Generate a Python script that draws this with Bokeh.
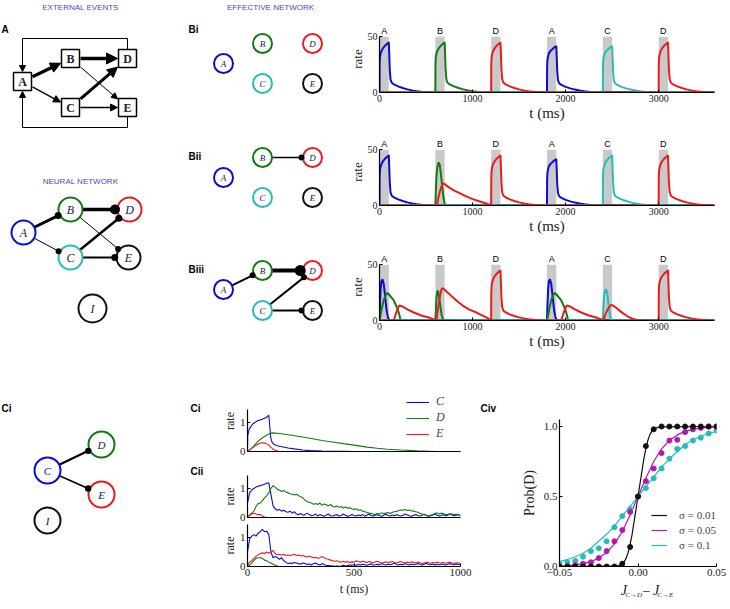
import math
from bokeh.plotting import figure
from bokeh.layouts import row, column
from bokeh.models import Range1d, Arrow, NormalHead, Legend, LegendItem, FixedTicker
from bokeh.embed import file_html
from bokeh.resources import INLINE
from bokeh.core.properties import value

# ====================== DATA ======================
EVENT_ONSETS = [0, 600, 1200, 1800, 2400, 3000]
EVENT_SEQUENCE = ["A", "B", "D", "A", "C", "D"]
STIM_DURATION = 100
STIM_TOP = 50
RATE_TICKS = [0, 50]
TIME_TICKS = [0, 1000, 2000, 3000]

# response templates: time after event onset (ms) and rate
DRIVEN_T = [0, 1, 4, 10, 20, 40, 60, 80, 100, 104, 110, 118, 130, 150, 200, 250, 300, 350, 400, 450, 500, 550, 600]
DRIVEN_HI = [0, 24, 31, 34, 37, 40, 42, 43.5, 45, 36, 21, 12, 9, 7.5, 5.5, 4, 2.8, 1.9, 1.2, 0.7, 0.35, 0.1, 0]
DRIVEN_LO = [0, 22, 29, 32, 35, 37.5, 39, 40.5, 41.5, 33, 19, 11, 8.5, 7, 5, 3.7, 2.6, 1.7, 1.1, 0.6, 0.3, 0.1, 0]
BII_GREEN_B_T = [0, 5, 12, 20, 30, 38, 48, 60, 75, 90, 100, 110, 600]
BII_GREEN_B = [0, 12, 26, 33, 37.5, 38.5, 36, 28, 16, 6, 2, 0, 0]
BII_RED_B_T = [0, 17, 30, 50, 70, 90, 110, 150, 200, 250, 294, 350, 410, 471, 530, 577, 600]
BII_RED_B = [0, 0, 6, 13, 18, 20, 18.5, 16, 13.5, 11.5, 9.7, 7.5, 5.5, 3.8, 2.2, 0.9, 0.3]
BIII_BLUE_A_T = [0, 5, 12, 20, 32, 45, 60, 75, 90, 105, 113, 600]
BIII_BLUE_A = [0, 14, 28, 35, 37, 33, 22, 10, 3, 0.5, 0, 0]
BIII_GREEN_A_T = [0, 10, 25, 45, 65, 85, 100, 125, 150, 175, 200, 215, 227, 600]
BIII_GREEN_A = [0, 4, 11, 18, 22.5, 24.7, 23.5, 21, 18.5, 14, 9, 4.5, 0, 0]
BIII_RED_A_T = [0, 150, 160, 180, 200, 213, 240, 300, 362, 450, 539, 600]
BIII_RED_A = [0, 0, 2, 7, 11.5, 13.4, 12.8, 10, 7.4, 4.5, 2.4, 0.5]
BIII_GREEN_B_T = [0, 5, 12, 20, 28, 40, 55, 70, 85, 91, 600]
BIII_GREEN_B = [0, 8, 20, 25.5, 27, 22, 12, 4, 0.5, 0, 0]
BIII_RED_B_T = [0, 10, 20, 35, 50, 65, 74, 100, 140, 187, 240, 294, 360, 435, 490, 542, 595, 600]
BIII_RED_B = [0, 0, 5, 14, 22, 27.5, 29, 27.5, 24.5, 20.8, 17, 13.4, 10, 7.4, 5, 3, 0.6, 0.3]
BIII_CYAN_C_T = [0, 5, 12, 22, 36, 48, 62, 75, 89, 600]
BIII_CYAN_C = [0, 10, 21, 26.5, 28, 24, 14, 5, 0, 0]
BIII_RED_C_T = [0, 10, 30, 55, 89, 110, 150, 200, 260, 320, 373, 600]
BIII_RED_C = [0, 1, 6, 10.5, 14, 13.5, 11, 7.5, 4, 1.5, 0.3, 0]

TEMPLATES = {
    "driven_hi": (DRIVEN_T, DRIVEN_HI),
    "driven_lo": (DRIVEN_T, DRIVEN_LO),
    "bii_green_b": (BII_GREEN_B_T, BII_GREEN_B),
    "bii_red_b": (BII_RED_B_T, BII_RED_B),
    "biii_blue_a": (BIII_BLUE_A_T, BIII_BLUE_A),
    "biii_green_a": (BIII_GREEN_A_T, BIII_GREEN_A),
    "biii_red_a": (BIII_RED_A_T, BIII_RED_A),
    "biii_green_b": (BIII_GREEN_B_T, BIII_GREEN_B),
    "biii_red_b": (BIII_RED_B_T, BIII_RED_B),
    "biii_cyan_c": (BIII_CYAN_C_T, BIII_CYAN_C),
    "biii_red_c": (BIII_RED_C_T, BIII_RED_C),
}

# response of each neuron to each of the six events
BI_RESP = {
    "A": ["driven_hi", None, None, "driven_lo", None, None],
    "B": [None, "driven_hi", None, None, None, None],
    "C": [None, None, None, None, "driven_lo", None],
    "D": [None, None, "driven_hi", None, None, "driven_hi"],
    "E": [None, None, None, None, None, None],
}
BII_RESP = {
    "A": ["driven_hi", None, None, "driven_lo", None, None],
    "B": [None, "bii_green_b", None, None, None, None],
    "C": [None, None, None, None, "driven_hi", None],
    "D": [None, "bii_red_b", "driven_hi", None, None, "driven_hi"],
    "E": [None, None, None, None, None, None],
}
BIII_RESP = {
    "A": ["biii_blue_a", None, None, "biii_blue_a", None, None],
    "B": ["biii_green_a", "biii_green_b", None, "biii_green_a", None, None],
    "C": [None, None, None, None, "biii_cyan_c", None],
    "D": ["biii_red_a", "biii_red_b", "driven_hi", "biii_red_a", "biii_red_c", "driven_hi"],
    "E": [None, None, None, None, None, None],
}

# Panel C: deterministic (Ci) and noisy (Cii) rates
CI_C_T = [0, 1, 8, 23, 47, 70, 90, 100, 103, 109, 115, 125, 140, 156, 190, 219, 260, 297, 350, 406, 450, 500, 1000]
CI_C = [0.0, 0.55, 0.77, 0.94, 1.06, 1.11, 1.18, 1.25, 1.0, 0.49, 0.32, 0.24, 0.2, 0.17, 0.12, 0.09, 0.05, 0.03, 0.015, 0.01, 0.005, 0, 0]
CI_D_T = [0, 15, 31, 46, 62, 78, 94, 105, 117, 150, 200, 250, 300, 350, 406, 450, 500, 562, 610, 656, 720, 797, 850, 900, 1000]
CI_D = [0, 0.08, 0.2, 0.32, 0.43, 0.51, 0.58, 0.62, 0.64, 0.62, 0.57, 0.51, 0.45, 0.38, 0.32, 0.27, 0.22, 0.15, 0.11, 0.08, 0.05, 0.02, 0.01, 0, 0]
CI_E_T = [0, 15, 31, 46, 62, 75, 86, 100, 109, 120, 133, 150, 1000]
CI_E = [0, 0.08, 0.17, 0.24, 0.29, 0.3, 0.28, 0.22, 0.15, 0.08, 0.03, 0, 0]

CII_T = list(range(0, 1001, 10))
CII1_C = [0.5, 0.85, 0.95, 1.0, 1.05, 1.08, 1.1, 1.12, 1.15, 1.18, 1.2,
          0.8, 0.4, 0.3, 0.25, 0.28, 0.22, 0.25, 0.2, 0.18, 0.22,
          0.15, 0.2, 0.12, 0.1, 0.14, 0.08, 0.1, 0.15, 0.1, 0.06,
          0.08, 0.12, 0.05, 0.1, 0.07, 0.04, 0.09, 0.12, 0.06, 0.05,
          0.08, 0.1, 0.05, 0.07, 0.12, 0.08, 0.04, 0.06, 0.1, 0.07,
          0.05, 0.09, 0.06, 0.1, 0.04, 0.08, 0.12, 0.07, 0.05, 0.08,
          0.1, 0.06, 0.04, 0.08, 0.11, 0.07, 0.05, 0.09, 0.06, 0.1,
          0.07, 0.05, 0.08, 0.12, 0.09, 0.06, 0.04, 0.08, 0.1, 0.06,
          0.05, 0.08, 0.11, 0.07, 0.04, 0.06, 0.09, 0.12, 0.08, 0.05,
          0.07, 0.1, 0.06, 0.08, 0.12, 0.09, 0.06, 0.08, 0.1, 0.07]
CII1_D = [0, 0.08, 0.15, 0.22, 0.38, 0.48, 0.5, 0.58, 0.68, 0.75, 0.85,
          1.0, 1.1, 1.05, 0.97, 0.95, 0.9, 0.93, 0.88, 0.85, 0.82,
          0.8, 0.78, 0.8, 0.75, 0.72, 0.68, 0.6, 0.55, 0.52, 0.5,
          0.46, 0.48, 0.45, 0.5, 0.42, 0.47, 0.44, 0.4, 0.45, 0.38,
          0.36, 0.4, 0.35, 0.38, 0.33, 0.36, 0.32, 0.34, 0.3, 0.28,
          0.3, 0.25, 0.27, 0.22, 0.2, 0.18, 0.15, 0.14, 0.12, 0.1,
          0.14, 0.12, 0.16, 0.13, 0.15, 0.17, 0.14, 0.18, 0.2, 0.21,
          0.24, 0.26, 0.25, 0.28, 0.24, 0.26, 0.23, 0.22, 0.2, 0.18,
          0.15, 0.12, 0.1, 0.08, 0.06, 0.08, 0.1, 0.14, 0.16, 0.12,
          0.15, 0.13, 0.11, 0.1, 0.13, 0.12, 0.1, 0.11, 0.09, 0.08]
CII1_E_T = [0, 10, 20, 30, 40, 50, 60, 70, 80, 90, 100, 1000]
CII1_E = [0, 0.08, 0.12, 0.15, 0.12, 0.1, 0.1, 0.05, 0.02, 0, 0, 0]

CII2_C = [0.5, 0.95, 1.05, 1.1, 1.05, 1.15, 1.2, 1.28, 1.2, 1.22, 1.1,
          0.5, 0.3, 0.35, 0.3, 0.25, 0.3, 0.2, 0.15, 0.1, 0.12,
          0.1, 0.14, 0.12, 0.1, 0.08, 0.12, 0.1, 0.07, 0.09, 0.05,
          0.1, 0.12, 0.08, 0.05, 0.1, 0.06, 0.04, 0.03, 0.02, 0.02,
          0.01, 0.02, 0.01, 0.02, 0.04, 0.02, 0.03, 0.05, 0.04, 0.06,
          0.04, 0.07, 0.05, 0.08, 0.06, 0.04, 0.07, 0.09, 0.05, 0.06,
          0.08, 0.05, 0.1, 0.07, 0.05, 0.08, 0.06, 0.09, 0.12, 0.07,
          0.05, 0.08, 0.06, 0.1, 0.07, 0.05, 0.09, 0.06, 0.08, 0.1,
          0.07, 0.05, 0.08, 0.11, 0.07, 0.06, 0.09, 0.05, 0.08, 0.06,
          0.09, 0.07, 0.05, 0.08, 0.1, 0.07, 0.06, 0.09, 0.07, 0.08]
CII2_D_T = [0, 10, 20, 30, 40, 50, 60, 70, 80, 90, 100, 110, 120, 130, 140, 150, 1000]
CII2_D = [0, 0.05, 0.12, 0.2, 0.28, 0.3, 0.3, 0.28, 0.22, 0.2, 0.15, 0.12, 0.08, 0.05, 0.02, 0, 0]
CII2_E = [0.05, 0.15, 0.2, 0.28, 0.35, 0.4, 0.45, 0.47, 0.45, 0.5, 0.46,
          0.5, 0.55, 0.45, 0.4, 0.42, 0.4, 0.42, 0.38, 0.4, 0.38,
          0.4, 0.42, 0.38, 0.4, 0.36, 0.38, 0.35, 0.33, 0.36, 0.33,
          0.3, 0.32, 0.28, 0.3, 0.35, 0.3, 0.27, 0.25, 0.22, 0.2,
          0.18, 0.2, 0.16, 0.15, 0.18, 0.15, 0.17, 0.14, 0.16, 0.15,
          0.2, 0.17, 0.15, 0.18, 0.16, 0.14, 0.17, 0.15, 0.13, 0.16,
          0.18, 0.15, 0.12, 0.14, 0.16, 0.13, 0.15, 0.17, 0.14, 0.12,
          0.15, 0.17, 0.14, 0.12, 0.15, 0.13, 0.16, 0.14, 0.12, 0.15,
          0.13, 0.1, 0.12, 0.15, 0.13, 0.11, 0.14, 0.12, 0.15, 0.13,
          0.12, 0.14, 0.11, 0.13, 0.15, 0.12, 0.1, 0.13, 0.12, 0.11]

# Panel Civ: probability of choosing D
CIV_X = [-0.05, -0.045, -0.04, -0.035, -0.03, -0.025, -0.02, -0.015, -0.01, -0.005, 0.0,
         0.005, 0.01, 0.015, 0.02, 0.025, 0.03, 0.035, 0.04, 0.045, 0.05]
CIV_P_001 = [0, 0, 0, 0, 0, 0, 0, 0, 0.02, 0.14, 0.50, 0.86, 0.98, 1, 1, 1, 1, 1, 1, 1, 1]
CIV_P_005 = [0.0, 0.0, 0.01, 0.02, 0.03, 0.06, 0.11, 0.18, 0.26, 0.39, 0.5, 0.61, 0.70, 0.81, 0.90, 0.905, 0.96, 0.98, 0.99, 1.0, 1.0]
CIV_P_01 = [0.02, 0.03, 0.04, 0.07, 0.11, 0.13, 0.18, 0.28, 0.36, 0.41, 0.5, 0.56, 0.63, 0.70, 0.77, 0.84, 0.86, 0.90, 0.92, 0.95, 0.97]
FIT_001_X = [-0.05, -0.015, -0.0125, -0.01, -0.00875, -0.0075, -0.00625, -0.005, -0.00375, -0.0025, -0.00125, 0.0,
             0.00125, 0.0025, 0.00375, 0.005, 0.00625, 0.0075, 0.00875, 0.01, 0.0125, 0.015, 0.05]
FIT_001 = [0, 0.002, 0.006, 0.02, 0.035, 0.06, 0.1, 0.16, 0.23, 0.32, 0.41, 0.5,
           0.59, 0.68, 0.77, 0.84, 0.9, 0.94, 0.965, 0.98, 0.994, 0.998, 1.0]
FIT_005 = [0.003, 0.006, 0.011, 0.02, 0.035, 0.06, 0.1, 0.16, 0.25, 0.37, 0.5, 0.63, 0.75, 0.84, 0.9, 0.94, 0.965, 0.98, 0.989, 0.994, 0.997]
FIT_01 = [0.035, 0.05, 0.07, 0.095, 0.13, 0.18, 0.23, 0.29, 0.36, 0.43, 0.5, 0.57, 0.64, 0.71, 0.77, 0.82, 0.87, 0.905, 0.93, 0.95, 0.965]
SIGMA_LABELS = ["σ = 0.01", "σ = 0.05", "σ = 0.1"]

# ====================== STYLE / LAYOUT ======================
SERIF = "Liberation Serif"
SANS = "Liberation Sans"
C_BLUE = "#0b0bd8"
C_GREEN = "#127a12"
C_RED = "#ec1b1b"
C_CYAN = "#25bcbc"
C_BLACK = "#111111"
C_HEAD = "#4848cc"
C_MAGENTA = "#b418b4"
C_STIM = "#c9c9c9"
B_COLORS = {"A": C_BLUE, "B": C_GREEN, "C": C_CYAN, "D": C_RED, "E": C_BLACK}

# diagram layouts (page pixel coordinates)
BOX_POS = {"A": (22, 81), "B": (70, 58), "C": (70, 107), "D": (127, 58), "E": (127, 107)}
BOX_EDGES = [("A", "B", 3.2, 10), ("A", "C", 1.3, 7), ("B", "D", 3.6, 11), ("B", "E", 1.0, 6),
             ("C", "D", 3.0, 10), ("C", "E", 1.3, 7)]
NN_NODES = {"A": (23, 232, C_BLUE, 12), "B": (70, 209, C_GREEN, 12), "D": (129, 209, C_RED, 12),
            "C": (70, 257, C_CYAN, 12), "E": (128, 257, C_BLACK, 12), "I": (92, 308, C_BLACK, 14)}
NN_EDGES = [("A", "B", 3.0, 3.5), ("A", "C", 1.0, 3.0), ("B", "D", 3.5, 5.0), ("B", "E", 1.0, 3.0),
            ("C", "D", 2.5, 3.5), ("C", "E", 2.0, 3.5)]


def eff_nodes(dy_a, dy_b, dy_c):
    return {"A": (223, dy_a, C_BLUE, 9.5), "B": (262, dy_b, C_GREEN, 9.5), "D": (312, dy_b, C_RED, 9.5),
            "C": (262, dy_c, C_CYAN, 9.5), "E": (312, dy_c, C_BLACK, 9.5)}


EFF_NETS = [
    ("Bi", 29, eff_nodes(63, 43, 83), []),
    ("Bii", 156, eff_nodes(177, 157, 197), [("B", "D", 1.5, 3.0)]),
    ("Biii", 269, eff_nodes(289, 270, 310), [("A", "B", 2.0, 3.0), ("B", "D", 4.0, 5.5),
                                            ("C", "D", 2.0, 3.0), ("C", "E", 2.0, 3.0)]),
]
CI_NODES = {"C": (47, 470, C_BLUE, 13), "D": (101, 444, C_GREEN, 13), "E": (101, 494, C_RED, 13),
            "I": (47, 520, C_BLACK, 13)}
CI_EDGES = [("C", "D", 2.2, 3.2), ("C", "E", 1.6, 3.2)]


def canvas(w, h, x0, y0):
    p = figure(width=w, height=h, x_range=Range1d(x0, x0 + w), y_range=Range1d(y0 + h, y0),
               output_backend="svg", toolbar_location=None,
               x_axis_location=None, y_axis_location=None, min_border=0)
    p.outline_line_color = None
    p.grid.visible = False
    return p


def txt(p, xs, ys, texts, size, font=SANS, style="normal", color="black", align="center"):
    p.text(x=xs, y=ys, text=texts, text_font=value(font), text_font_size=value(size),
           text_font_style=style, text_color=color, text_align=align, text_baseline="middle")


def draw_network(p, nodes, edges, label_size):
    dots = []
    for a, b, lw, dr in edges:
        xa, ya, _, ra = nodes[a]
        xb, yb, _, rb = nodes[b]
        d = math.hypot(xb - xa, yb - ya)
        ux, uy = (xb - xa) / d, (yb - ya) / d
        sx, sy = xa + ux * ra, ya + uy * ra
        ex, ey = xb - ux * (rb + dr * 0.5), yb - uy * (rb + dr * 0.5)
        p.line([sx, ex], [sy, ey], line_color="black", line_width=lw)
        dots.append((ex, ey, dr))
    names = list(nodes.keys())
    p.circle([nodes[n][0] for n in names], [nodes[n][1] for n in names],
             radius=[nodes[n][3] for n in names], fill_color="white",
             line_color=[nodes[n][2] for n in names], line_width=2)
    if dots:
        p.circle([d[0] for d in dots], [d[1] for d in dots], radius=[d[2] for d in dots],
                 fill_color="black", line_color=None)
    txt(p, [nodes[n][0] for n in names], [nodes[n][1] for n in names], names, label_size,
        font=SERIF, style="italic", color="#222244")


def box_clip(x0, y0, x1, y1, h):
    dx, dy = x1 - x0, y1 - y0
    t = h / max(abs(dx), abs(dy))
    return x0 + dx * t, y0 + dy * t


# ---------- top-left: external events + neural network ----------
f1 = canvas(178, 370, 0, 0)
txt(f1, [80], [7], ["EXTERNAL EVENTS"], "8px", color=C_HEAD)
txt(f1, [1], [29], ["A"], "10px", style="bold", align="left")
H = 9
for a, b, lw, hs in BOX_EDGES:
    xa, ya = BOX_POS[a]
    xb, yb = BOX_POS[b]
    sx, sy = box_clip(xa, ya, xb, yb, H + 1)
    ex, ey = box_clip(xb, yb, xa, ya, H + 1)
    f1.add_layout(Arrow(end=NormalHead(size=hs, fill_color="black", line_color="black"),
                        x_start=sx, y_start=sy, x_end=ex, y_end=ey, line_width=lw))
LOOP_TOP, LOOP_BOT = 38, 127
xd, yd = BOX_POS["D"]
xe, ye = BOX_POS["E"]
xa, ya = BOX_POS["A"]
f1.line([xd, xd, xa], [yd - H, LOOP_TOP, LOOP_TOP], line_color="black", line_width=1)
f1.add_layout(Arrow(end=NormalHead(size=6, fill_color="black", line_color="black"),
                    x_start=xa, y_start=LOOP_TOP, x_end=xa, y_end=ya - H - 1, line_width=1))
f1.line([xe, xe, xa], [ye + H, LOOP_BOT, LOOP_BOT], line_color="black", line_width=1)
f1.add_layout(Arrow(end=NormalHead(size=6, fill_color="black", line_color="black"),
                    x_start=xa, y_start=LOOP_BOT, x_end=xa, y_end=ya + H + 1, line_width=1))
bn = list(BOX_POS.keys())
f1.rect([BOX_POS[n][0] for n in bn], [BOX_POS[n][1] for n in bn], width=2 * H, height=2 * H,
        fill_color="white", line_color="black", line_width=1.5)
txt(f1, [BOX_POS[n][0] for n in bn], [BOX_POS[n][1] + 0.5 for n in bn], bn, "12px",
    font=SERIF, style="bold", color="#1a1a3a")
txt(f1, [80], [181], ["NEURAL NETWORK"], "8px", color=C_HEAD)
draw_network(f1, NN_NODES, NN_EDGES, "12px")

# ---------- effective networks ----------
f2 = canvas(168, 370, 178, 0)
txt(f2, [270], [7], ["EFFECTIVE NETWORK"], "8px", color=C_HEAD)
for label, ly, nodes, edges in EFF_NETS:
    txt(f2, [188], [ly], [label], "10px", style="bold", align="left")
    draw_network(f2, nodes, edges, "9px")


# ---------- rate panels ----------
def build_trace(resp_list):
    ts, vs = [], []
    for onset, name in zip(EVENT_ONSETS, resp_list):
        if name is None:
            ts += [onset, onset + 600]
            vs += [0, 0]
        else:
            tt, vv = TEMPLATES[name]
            ts += [onset + t for t in tt]
            vs += list(vv)
    return ts, vs


def style_axes(p, tick_size, label_size):
    for ax in list(p.xaxis) + list(p.yaxis):
        ax.axis_line_color = "black"
        ax.axis_line_width = 1.2
        ax.major_tick_in = 3
        ax.major_tick_out = 0
        ax.major_tick_line_color = "black"
        ax.minor_tick_line_color = None
        ax.major_label_text_font = SERIF
        ax.major_label_text_font_size = tick_size
        ax.major_label_text_color = "#222222"
        ax.major_label_standoff = 2
        ax.axis_label_text_font = SERIF
        ax.axis_label_text_font_style = "normal"
        ax.axis_label_text_font_size = label_size
        ax.axis_label_text_color = "#222222"
        ax.axis_label_standoff = 0


def rate_panel(resp, height, top, bottom):
    p = figure(width=384, height=height, x_range=Range1d(0, 3600), y_range=Range1d(0, 60),
               output_backend="svg", toolbar_location=None,
               min_border_left=30, min_border_right=16, min_border_top=top, min_border_bottom=bottom)
    p.outline_line_color = None
    p.grid.visible = False
    p.quad(left=EVENT_ONSETS, right=[o + STIM_DURATION for o in EVENT_ONSETS],
           bottom=0, top=STIM_TOP, fill_color=C_STIM, line_color=None)
    for n in ["E", "A", "B", "C", "D"]:
        t, v = build_trace(resp[n])
        p.line(t, v, line_color=B_COLORS[n], line_width=2)
    txt(p, [o + STIM_DURATION / 2 for o in EVENT_ONSETS], [55] * len(EVENT_ONSETS), EVENT_SEQUENCE, "9px")
    style_axes(p, "10px", "15px")
    p.yaxis.axis_label_text_font_size = "13px"
    p.xaxis.ticker = FixedTicker(ticks=TIME_TICKS)
    p.yaxis.ticker = FixedTicker(ticks=RATE_TICKS)
    p.yaxis.bounds = (0, STIM_TOP)
    p.xaxis.bounds = (0, 3600)
    p.yaxis.axis_label = "rate"
    p.xaxis.axis_label = "t (ms)"
    return p


r1 = rate_panel(BI_RESP, 124, 25, 32)
r2 = rate_panel(BII_RESP, 113, 14, 32)
r3 = rate_panel(BIII_RESP, 117, 16, 34)

# ---------- panel C diagram ----------
f4 = canvas(208, 239, 0, 370)
txt(f4, [1], [408], ["Ci"], "10px", style="bold", align="left")
txt(f4, [190], [408], ["Ci"], "10px", style="bold", align="left")
txt(f4, [190], [471], ["Cii"], "10px", style="bold", align="left")
draw_network(f4, CI_NODES, CI_EDGES, "11px")


def c_panel(height, top, bottom, ymax, traces, show_x):
    p = figure(width=267, height=height, x_range=Range1d(0, 1000), y_range=Range1d(0, ymax),
               output_backend="svg", toolbar_location=None,
               min_border_left=39, min_border_right=15, min_border_top=top, min_border_bottom=bottom)
    p.outline_line_color = None
    p.grid.visible = False
    rends = []
    for t, v, col in traces:
        rends.append(p.line(t, v, line_color=col, line_width=1.1))
    style_axes(p, "11px", "12px")
    p.yaxis.ticker = FixedTicker(ticks=[0, 1])
    p.yaxis.bounds = (0, 1.45)
    p.yaxis.axis_label = "rate"
    if show_x:
        p.xaxis.ticker = FixedTicker(ticks=[0, 500, 1000])
        p.xaxis.axis_label = "t (ms)"
        p.xaxis.axis_label_standoff = 3
    else:
        p.xaxis.ticker = FixedTicker(ticks=[])
        p.xaxis.major_label_text_font_size = "0px"
        p.xaxis.major_label_standoff = 0
    return p, rends


c1, c1r = c_panel(87, 20, 6, 2.1, [(CI_C_T, CI_C, C_BLUE), (CI_D_T, CI_D, C_GREEN), (CI_E_T, CI_E, C_RED)], False)
leg = Legend(items=[LegendItem(label=n, renderers=[r]) for n, r in zip(["C", "D", "E"], c1r)],
             location=(159, 10), padding=0, margin=0, spacing=1, glyph_width=23, glyph_height=14,
             label_height=14, label_standoff=7, label_text_font=SERIF, label_text_font_style="italic",
             label_text_font_size="12px", border_line_color=None, background_fill_alpha=0)
c1.add_layout(leg)
c2, _ = c_panel(66, 18, 6, 1.45, [(CII_T, CII1_C, C_BLUE), (CII_T, CII1_D, C_GREEN), (CII1_E_T, CII1_E, C_RED)], False)
c3, _ = c_panel(86, 1, 43, 1.45, [(CII_T, CII2_C, C_BLUE), (CII2_D_T, CII2_D, C_GREEN), (CII_T, CII2_E, C_RED)], True)

# ---------- panel Civ ----------
f5 = canvas(40, 239, 475, 370)
txt(f5, [480], [408], ["Civ"], "10px", style="bold", align="left")

f6 = figure(width=215, height=211, x_range=Range1d(-0.05, 0.05), y_range=Range1d(0, 1.05),
            output_backend="svg", toolbar_location=None,
            min_border_left=44, min_border_right=14, min_border_top=49, min_border_bottom=15)
f6.outline_line_color = None
f6.grid.visible = False
l1 = f6.line(FIT_001_X, FIT_001, line_color=C_BLACK, line_width=1.2)
l2 = f6.line(CIV_X, FIT_005, line_color=C_MAGENTA, line_width=1.2)
l3 = f6.line(CIV_X, FIT_01, line_color=C_CYAN, line_width=1.2)
f6.scatter(CIV_X, CIV_P_01, size=5, color=C_CYAN)
f6.scatter(CIV_X, CIV_P_005, size=5, color=C_MAGENTA)
f6.scatter(CIV_X, CIV_P_001, size=5, color=C_BLACK)
style_axes(f6, "11px", "14px")
f6.yaxis.ticker = FixedTicker(ticks=[0, 0.5, 1.0])
f6.yaxis.major_label_overrides = {0: "0.0", 0.5: "0.5", 1: "1.0"}
f6.xaxis.ticker = FixedTicker(ticks=[-0.05, 0, 0.05])
f6.xaxis.major_label_overrides = {-0.05: "−0.05", 0: "0.00", 0.05: "0.05"}
f6.yaxis.axis_label = "Prob(D)"
f6.yaxis.axis_label_standoff = 4
leg2 = Legend(items=[LegendItem(label=s, renderers=[r]) for s, r in zip(SIGMA_LABELS, [l1, l2, l3])],
              location=(92, 14), padding=0, margin=0, spacing=1, glyph_width=16, glyph_height=14,
              label_height=14, label_standoff=12, label_text_font=SERIF, label_text_font_size="11px",
              border_line_color=None, background_fill_alpha=0)
f6.add_layout(leg2)

# x-axis label of Civ, with subscripts, as text
f7 = canvas(215, 28, 515, 581)
XLABEL_PARTS = [("J", 599, 590, "14px", "italic", "left"), ("C→D", 605, 594, "7px", "italic", "left"),
                ("−", 634, 590, "14px", "normal", "center"), ("J", 643, 590, "14px", "italic", "left"),
                ("C→E", 649, 594, "7px", "italic", "left")]
for tx, x, y, size, style, al in XLABEL_PARTS:
    txt(f7, [x], [y], [tx], size, font=SERIF, style=style, color="#222222", align=al)

top = row(f1, f2, column(r1, r2, r3))
bottom = row(f4, column(c1, c2, c3), f5, column(f6, f7))
page = column(top, bottom)

open("out.html", "w").write(file_html(page, INLINE))
